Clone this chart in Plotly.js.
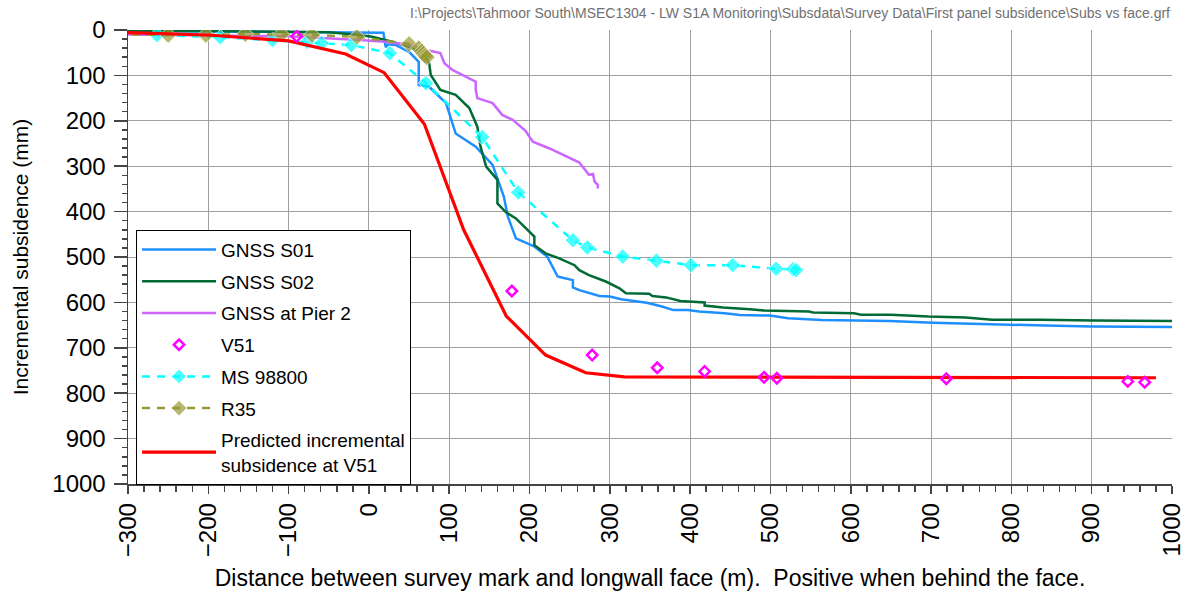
<!DOCTYPE html>
<html>
<head>
<meta charset="utf-8">
<script src="https://cdn.plot.ly/plotly-3.0.1.min.js"></script>
<style>html,body{margin:0;padding:0;background:#fff;}#chart{width:1184px;height:591px;}</style>
</head>
<body>
<div id="chart"></div>
<script>
// ---- Data (distance from face in m, incremental subsidence in mm) ----
const s01X = [-300,-200,-100,-50,0,18,20,21,23,33,50,62,62,75,96,108,133,154,168,173,183,205,222,235,240,254,254,262,287,300,314,346,365,379,397,411,443,462,499,522,564,648,703,763,796,842,900,972,1000];
const s01Y = [2,3,4,5,5,6,28,38,32,33,48,70,121,125,161,228,257,297,367,411,459,476,499,543,545,551,567,573,586,587,593,601,609,617,617,620,624,628,629,635,639,641,645,648,649,651,653,654,654];

const s02X = [-300,-200,-100,-50,-12,4,29,50,67,75,77,89,108,125,135,139,146,158,160,160,171,183,206,206,220,237,256,262,274,295,312,320,349,353,370,388,418,418,441,474,492,548,553,604,613,650,697,743,776,836,903,1000];
const s02Y = [1,2,3,5,11,15,26,37,51,73,99,132,143,172,213,257,301,327,330,382,402,415,455,474,492,503,518,529,540,554,569,580,581,586,589,597,600,607,611,615,618,620,622,624,627,627,631,633,638,638,640,641];

const pierX = [-300,-200,-100,-12,21,50,71,89,94,104,133,133,135,154,166,179,195,204,225,262,274,279,281,285,285];
const pierY = [10,12,14,22,26,33,44,51,73,88,114,132,150,161,187,198,222,246,261,292,319,317,334,341,349];

const v51X = [-90,178,278,359,418,492,508,719,945,966];
const v51Y = [14,575,716,744,752,765,767,768,774,776];

const msX = [-295,-264,-185,-120,-77,-59,-22,26,71,141,186,254,272,316,358,401,453,507,528,532];
const msY = [8,11,16,22,26,29,33,51,117,236,358,463,479,499,508,518,518,526,527,529];

const r35X = [-295,-250,-203,-154,-109,-71,-15,50,62,66,68,70,72];
const r35Y = [10,11,11,9,10,11,15,31,40,47,52,57,60];

const predX = [-300,-200,-100,-29,19,69,118,171,220,270,318,980];
const predY = [6,11,24,53,94,207,440,630,716,755,764,766];

const legendNames = ['GNSS S01','GNSS S02','GNSS at Pier 2','V51','MS 98800','R35','Predicted incremental<br>subsidence at V51'];

const FONT = 'Arial, "Liberation Sans", sans-serif';

// first point of the two survey series carries no visible marker
const msSizes = msX.map((v, i) => i === 0 ? 0 : 12);
const r35Sizes = r35X.map((v, i) => i === 0 ? 0 : 13);

const traces = [
  {x:s01X, y:s01Y, name:legendNames[0], mode:'lines', line:{color:'#1e8fff', width:2.5}, legendgroup:'a', legendrank:1},
  {x:s02X, y:s02Y, name:legendNames[1], mode:'lines', line:{color:'#006b35', width:2.5}, legendgroup:'b', legendrank:2},
  {x:pierX, y:pierY, name:legendNames[2], mode:'lines', line:{color:'#cc66ff', width:2.5}, legendgroup:'c', legendrank:3},
  {x:msX, y:msY, name:legendNames[4], mode:'lines+markers', line:{color:'#00ffff', width:2.5, dash:'8px,7px'}, marker:{symbol:'diamond', size:msSizes, color:'#00ffff'}, legendgroup:'e', legendrank:5},
  {x:r35X, y:r35Y, name:legendNames[5], mode:'lines+markers', line:{color:'#999933', width:2.5, dash:'8px,7px'}, marker:{symbol:'diamond', size:r35Sizes, color:'#999933'}, legendgroup:'f', legendrank:6},
  {x:predX, y:predY, name:legendNames[6], mode:'lines', line:{color:'#ff0000', width:3.2}, legendgroup:'g', legendrank:7},
  {x:v51X, y:v51Y, name:legendNames[3], mode:'markers', marker:{symbol:'diamond-open', size:8, color:'#ff00ff', line:{width:2.5, color:'#ff00ff'}}, legendgroup:'d', legendrank:4}
];

const layout = {
  width:1184, height:591,
  margin:{l:128, r:12, t:30, b:107},
  paper_bgcolor:'#fff', plot_bgcolor:'#fff',
  font:{family:FONT, color:'#000'},
  showlegend:true,
  legend:{x:0.0077, y:0.56, xanchor:'left', yanchor:'top', bgcolor:'#fff', bordercolor:'#000', borderwidth:1,
          font:{family:FONT, size:19, color:'#000'}, traceorder:'grouped', tracegroupgap:4, itemwidth:74},
  xaxis:{range:[-300,1000], dtick:100, tick0:0, tickangle:-90, tickfont:{family:FONT, size:24, color:'#000'},
         ticklabeloverflow:'allow',
         showgrid:true, gridcolor:'#a0a0a0', gridwidth:1, zeroline:false,
         showline:true, linecolor:'#444', linewidth:1.5,
         ticks:'outside', ticklen:8, tickcolor:'#444', tickwidth:1.5,
         minor:{dtick:20, ticks:'outside', ticklen:6, tickcolor:'#444', showgrid:false},
         title:{text:'Distance between survey mark and longwall face (m).  Positive when behind the face.', font:{family:FONT, size:23, color:'#000'}, standoff:16}},
  yaxis:{range:[1000,0], dtick:100, tick0:0, tickfont:{family:FONT, size:24, color:'#000'},
         ticklabelstandoff:3,
         showgrid:true, gridcolor:'#a0a0a0', gridwidth:1, zeroline:false,
         showline:true, linecolor:'#444', linewidth:1.5,
         ticks:'outside', ticklen:13, tickcolor:'#444', tickwidth:1.5,
         minor:{dtick:20, ticks:'outside', ticklen:5, tickcolor:'#444', showgrid:false},
         title:{text:'Incremental subsidence (mm)', font:{family:FONT, size:21, color:'#000'}, standoff:18}},
  annotations:[{xref:'paper', yref:'paper', x:1, y:1, xanchor:'right', yanchor:'bottom', yshift:7, showarrow:false,
    text:'I:\\Projects\\Tahmoor South\\MSEC1304 - LW S1A Monitoring\\Subsdata\\Survey Data\\First panel subsidence\\Subs vs face.grf',
    font:{family:'"Liberation Sans Narrow", "Arial Narrow", Arial, sans-serif', size:14, color:'#707070'}}]
};

Plotly.newPlot('chart', traces, layout, {displayModeBar:false, staticPlot:true});
</script>
</body>
</html>
